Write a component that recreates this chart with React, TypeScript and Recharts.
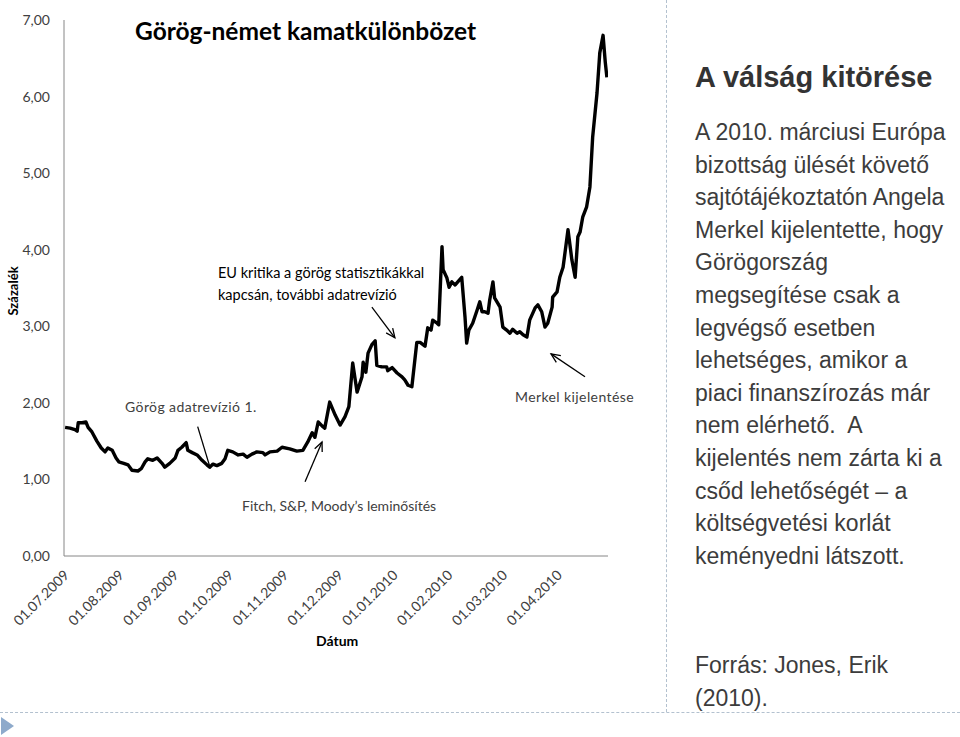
import React from "react";
import { LineChart, Line, XAxis, YAxis, ReferenceLine } from "recharts";

// position on the date axis (1 unit = one labelled month) and spread in %
const monthPos = [
  0.02, 0.11, 0.2, 0.24, 0.26, 0.33, 0.4, 0.44, 0.51, 0.6,
  0.68, 0.75, 0.8, 0.88, 0.95, 1.0, 1.09, 1.17, 1.24, 1.35,
  1.41, 1.48, 1.53, 1.62, 1.7, 1.79, 1.84, 1.93, 2.03, 2.08,
  2.15, 2.23, 2.26, 2.34, 2.43, 2.52, 2.61, 2.66, 2.72, 2.79,
  2.88, 2.94, 2.99, 3.08, 3.18, 3.27, 3.34, 3.43, 3.52, 3.63,
  3.67, 3.76, 3.89, 3.98, 4.12, 4.25, 4.36, 4.45, 4.53, 4.58,
  4.64, 4.71, 4.76, 4.85, 4.95, 5.04, 5.13, 5.2, 5.27, 5.35,
  5.44, 5.46, 5.51, 5.55, 5.62, 5.68, 5.71, 5.8, 5.89, 5.91,
  5.99, 6.08, 6.17, 6.22, 6.28, 6.35, 6.44, 6.5, 6.59, 6.64,
  6.7, 6.73, 6.81, 6.84, 6.9, 6.92, 6.99, 7.03, 7.08, 7.14,
  7.26, 7.32, 7.35, 7.39, 7.46, 7.54, 7.59, 7.63, 7.68, 7.74,
  7.77, 7.83, 7.86, 7.96, 8.01, 8.08, 8.14, 8.19, 8.27, 8.32,
  8.38, 8.45, 8.5, 8.6, 8.65, 8.72, 8.78, 8.83, 8.91, 8.92,
  9.0, 9.05, 9.11, 9.2, 9.27, 9.33, 9.38, 9.42, 9.47, 9.54,
  9.6, 9.65, 9.73, 9.78, 9.84, 9.88, 9.91,
];

const spread = [
  1.68, 1.67, 1.65, 1.63, 1.74, 1.74, 1.75, 1.68, 1.62, 1.5,
  1.41, 1.36, 1.41, 1.38, 1.28, 1.23, 1.21, 1.19, 1.12, 1.11,
  1.14, 1.23, 1.27, 1.25, 1.28, 1.21, 1.16, 1.21, 1.28, 1.38,
  1.42, 1.48, 1.38, 1.35, 1.32, 1.25, 1.19, 1.16, 1.2, 1.18,
  1.21, 1.27, 1.38, 1.36, 1.32, 1.33, 1.29, 1.33, 1.36, 1.35,
  1.32, 1.36, 1.37, 1.42, 1.4, 1.37, 1.38, 1.49, 1.61, 1.55,
  1.75, 1.7, 1.67, 2.01, 1.84, 1.71, 1.82, 1.95, 2.52, 2.14,
  2.34, 2.53, 2.4, 2.65, 2.76, 2.81, 2.49, 2.47, 2.47, 2.42,
  2.46, 2.39, 2.34, 2.3, 2.23, 2.21, 2.79, 2.79, 2.74, 2.98,
  2.95, 3.08, 3.04, 3.02, 4.04, 3.74, 3.63, 3.51, 3.58, 3.54,
  3.64, 3.12, 2.78, 2.95, 3.04, 3.21, 3.32, 3.19, 3.19, 3.17,
  3.34, 3.58, 3.37, 3.25, 2.99, 2.95, 2.91, 2.96, 2.91, 2.93,
  2.89, 2.86, 3.08, 3.24, 3.28, 3.19, 2.99, 3.04, 3.25, 3.38,
  3.45, 3.64, 3.77, 4.26, 3.87, 3.64, 4.17, 4.23, 4.43, 4.56,
  4.82, 5.47, 6.05, 6.57, 6.8, 6.45, 6.25,
];

const tickLabels = [
  "01.07.2009", "01.08.2009", "01.09.2009", "01.10.2009", "01.11.2009",
  "01.12.2009", "01.01.2010", "01.02.2010", "01.03.2010", "01.04.2010",
];
const yTicks = [0, 1, 2, 3, 4, 5, 6, 7];

// arrows pointing at events: start / end in chart units
const arrowFrom = [[2.44, 1.69], [4.4, 0.97], [5.62, 3.25], [9.51, 2.34]];
const arrowTo = [[2.66, 1.17], [4.71, 1.49], [6.04, 2.85], [8.89, 2.64]];
const arrowHasHead = [false, true, true, true];

const bodyLines = [
  "A 2010. márciusi Európa",
  "bizottság ülését követő",
  "sajtótájékoztatón Angela",
  "Merkel kijelentette, hogy",
  "Görögország",
  "megsegítése csak a",
  "legvégső esetben",
  "lehetséges, amikor a",
  "piaci finanszírozás már",
  "nem elérhető.  A",
  "kijelentés nem zárta ki a",
  "csőd lehetőségét – a",
  "költségvetési korlát",
  "keményedni látszott.",
];

const data = monthPos.map((t, i) => ({ t, v: spread[i] }));

const FONT = "Lato, 'Open Sans', sans-serif";
const AXIS_GREY = "#868686";
const TEXT_GREY = "#404040";

const DateTick = (props: any) => {
  const { x, y, payload } = props;
  return (
    <g transform={`translate(${x + 6},${y + 18})`}>
      <text
        textAnchor="end"
        transform="rotate(-45)"
        fontFamily={FONT}
        fontSize={14}
        fill={TEXT_GREY}
      >
        {tickLabels[payload.value]}
      </text>
    </g>
  );
};

const makeArrow = (head: boolean) => (props: any) => {
  const { x1, y1, x2, y2 } = props;
  const a = Math.atan2(y2 - y1, x2 - x1);
  const len = 10;
  const spreadAngle = 0.42;
  return (
    <g stroke="#000" strokeWidth={1.3} fill="none">
      <line x1={x1} y1={y1} x2={x2} y2={y2} />
      {head && (
        <polyline
          points={`${x2 - len * Math.cos(a - spreadAngle)},${y2 - len * Math.sin(a - spreadAngle)} ${x2},${y2} ${x2 - len * Math.cos(a + spreadAngle)},${y2 - len * Math.sin(a + spreadAngle)}`}
        />
      )}
    </g>
  );
};

const abs = (left: number, top: number, extra: React.CSSProperties = {}) =>
  ({ position: "absolute", left, top, whiteSpace: "nowrap", ...extra }) as React.CSSProperties;

export default function App() {
  return (
    <div
      style={{
        position: "absolute",
        left: 0,
        top: 0,
        width: 960,
        height: 737,
        background: "#fff",
        overflow: "hidden",
      }}
    >
      <div style={abs(0, 0)}>
        <LineChart
          width={660}
          height={737}
          data={data}
          margin={{ top: 20, right: 52, left: 0, bottom: 121 }}
        >
          <XAxis
            type="number"
            dataKey="t"
            domain={[0, 9.93]}
            ticks={tickLabels.map((_, i) => i)}
            tick={<DateTick />}
            tickLine={false}
            tickSize={0}
            axisLine={{ stroke: AXIS_GREY, strokeWidth: 1 }}
            height={60}
            allowDataOverflow
          />
          <YAxis
            type="number"
            domain={[0, 7]}
            ticks={yTicks}
            tickFormatter={(v: number) => v.toFixed(2).replace(".", ",")}
            tick={{ fontFamily: FONT, fontSize: 14, fill: TEXT_GREY }}
            tickLine={false}
            tickSize={0}
            tickMargin={14}
            axisLine={{ stroke: AXIS_GREY, strokeWidth: 1 }}
            width={64}
          />
          {arrowFrom.map((p, i) => (
            <ReferenceLine
              key={i}
              segment={[
                { x: p[0], y: p[1] },
                { x: arrowTo[i][0], y: arrowTo[i][1] },
              ]}
              stroke="#000"
              ifOverflow="visible"
              shape={makeArrow(arrowHasHead[i])}
            />
          ))}
          <Line
            type="linear"
            dataKey="v"
            stroke="#000"
            strokeWidth={3.4}
            strokeLinejoin="round"
            dot={false}
            activeDot={false}
            isAnimationActive={false}
          />
        </LineChart>
      </div>

      {/* chart texts */}
      <div style={abs(135, 16, { fontFamily: FONT, fontWeight: 700, fontSize: 24.5, color: "#000", lineHeight: "30px" })}>
        Görög-német kamatkülönbözet
      </div>
      <div
        style={abs(-22, 283, {
          fontFamily: FONT,
          fontWeight: 700,
          fontSize: 13,
          color: "#000",
          lineHeight: "16px",
          width: 70,
          textAlign: "center",
          transform: "rotate(-90deg)",
        })}
      >
        Százalék
      </div>
      <div style={abs(316, 632, { fontFamily: FONT, fontWeight: 700, fontSize: 14, color: "#000", lineHeight: "18px" })}>
        Dátum
      </div>
      <div style={abs(218, 262, { fontFamily: FONT, fontSize: 14.5, color: "#000", lineHeight: "22px" })}>
        EU kritika a görög statisztikákkal
        <br />
        kapcsán, további adatrevízió
      </div>
      <div style={abs(125, 398, { fontFamily: FONT, fontSize: 14, color: TEXT_GREY, lineHeight: "18px", letterSpacing: 0.4 })}>
        Görög adatrevízió 1.
      </div>
      <div style={abs(242, 497, { fontFamily: FONT, fontSize: 14, color: TEXT_GREY, lineHeight: "18px" })}>
        Fitch, S&amp;P, Moody’s leminősítés
      </div>
      <div style={abs(515, 388, { fontFamily: FONT, fontSize: 14, color: TEXT_GREY, lineHeight: "18px", letterSpacing: 0.4 })}>
        Merkel kijelentése
      </div>

      {/* slide frame */}
      <div style={abs(666, 0, { height: 712, borderLeft: "1px dashed #b3c1cf" })} />
      <div style={abs(0, 712, { width: 960, borderTop: "1px dashed #b3c1cf" })} />
      <div
        style={abs(1, 717, {
          width: 0,
          height: 0,
          borderTop: "9px solid transparent",
          borderBottom: "9px solid transparent",
          borderLeft: "13px solid #8eaacb",
        })}
      />

      {/* right text panel */}
      <div
        style={abs(695, 63, {
          fontFamily: "'Liberation Sans', Arial, sans-serif",
          fontWeight: 700,
          fontSize: 29,
          lineHeight: "29px",
          color: "#333",
        })}
      >
        A válság kitörése
      </div>
      <div
        style={abs(695, 116, {
          fontFamily: "'Liberation Sans', Arial, sans-serif",
          fontSize: 23,
          lineHeight: "32.6px",
          color: "#3c3c3c",
          whiteSpace: "pre",
        })}
      >
        {bodyLines.map((l, i) => (
          <div key={i}>{l}</div>
        ))}
      </div>
      <div
        style={abs(695, 649, {
          fontFamily: "'Liberation Sans', Arial, sans-serif",
          fontSize: 23,
          lineHeight: "32.6px",
          color: "#3c3c3c",
        })}
      >
        <div>Forrás: Jones, Erik</div>
        <div>(2010).</div>
      </div>
    </div>
  );
}
